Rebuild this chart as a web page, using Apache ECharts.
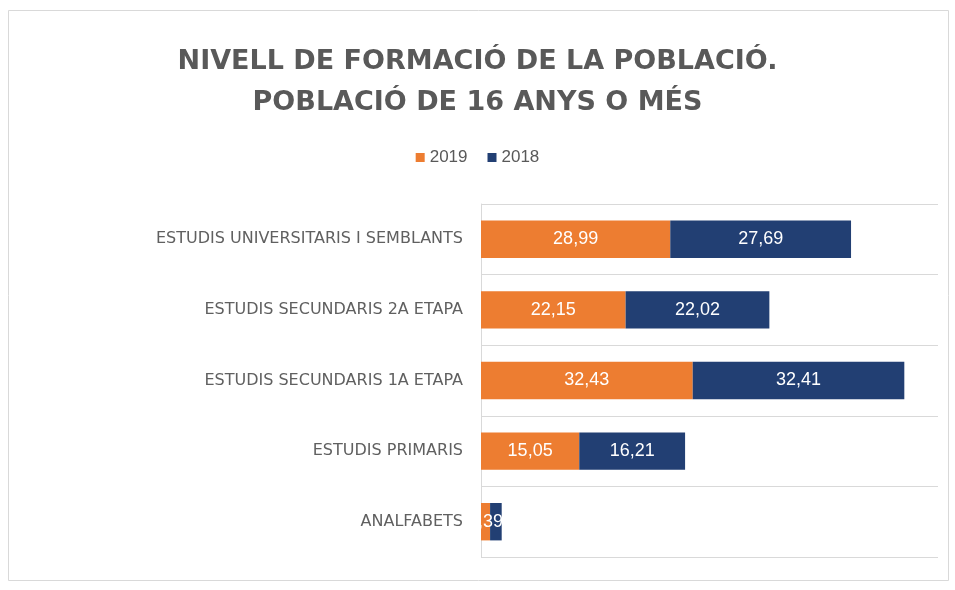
<!DOCTYPE html>
<html>
<head>
<meta charset="UTF-8">
<script src="https://cdn.jsdelivr.net/npm/echarts@6/dist/echarts.min.js"></script>
<style>
  html, body { margin: 0; padding: 0; background: #fff; }
  #main { width: 955px; height: 590px; }
</style>
</head>
<body>
<div id="main"></div>
<script>
// data
var categories = [
  'ESTUDIS UNIVERSITARIS I SEMBLANTS',
  'ESTUDIS SECUNDARIS 2A ETAPA',
  'ESTUDIS SECUNDARIS 1A ETAPA',
  'ESTUDIS PRIMARIS',
  'ANALFABETS'
];
var values2019 = [28.99, 22.15, 32.43, 15.05, 1.39];
var values2018 = [27.69, 22.02, 32.41, 16.21, 1.78];

var grey = '#595959';
var orange = '#ed7d31';
var navy = '#223f73';

function fmt(v) {
  return v.toFixed(2).replace('.', ',');
}

var chart = echarts.init(document.getElementById('main'));

var option = {
  backgroundColor: '#fff',
  animation: false,
  title: {
    text: 'NIVELL DE FORMACIÓ DE LA POBLACIÓ.\nPOBLACIÓ DE 16 ANYS O MÉS',
    left: 'center',
    top: 36,
    textStyle: {
      fontFamily: 'DejaVu Sans',
      fontWeight: 'bold',
      fontSize: 27,
      lineHeight: 41,
      color: grey
    }
  },
  legend: {
    top: 144,
    left: 'center',
    itemWidth: 9,
    itemHeight: 9,
    itemGap: 20,
    icon: 'rect',
    textStyle: { fontFamily: 'Liberation Sans', fontSize: 17, color: grey },
    data: ['2019', '2018']
  },
  graphic: [{
    type: 'rect',
    shape: { x: 8.5, y: 10.5, width: 940, height: 570 },
    style: { fill: 'none', stroke: '#d9d9d9', lineWidth: 1 },
    silent: true
  }],
  grid: { left: 481, right: 17, top: 204, bottom: 33 },
  xAxis: {
    type: 'value',
    min: 0,
    max: 70,
    show: false
  },
  yAxis: {
    type: 'category',
    inverse: true,
    data: categories,
    axisLine: { show: true, lineStyle: { color: '#d9d9d9' } },
    axisTick: { show: false },
    splitLine: { show: true, lineStyle: { color: '#d9d9d9' } },
    axisLabel: {
      margin: 18,
      fontFamily: 'DejaVu Sans',
      fontSize: 16,
      color: '#606060'
    }
  },
  series: [
    {
      name: '2019',
      type: 'bar',
      stack: 'total',
      barWidth: '53%',
      itemStyle: { color: orange },
      label: {
        show: true,
        position: 'inside',
        color: '#fff',
        fontFamily: 'Liberation Sans',
        fontSize: 18,
        formatter: function (p) { return fmt(p.value); }
      },
      data: values2019
    },
    {
      name: '2018',
      type: 'bar',
      stack: 'total',
      barWidth: '53%',
      itemStyle: { color: navy },
      label: {
        show: true,
        position: 'inside',
        color: '#fff',
        fontFamily: 'Liberation Sans',
        fontSize: 18,
        formatter: function (p) { return p.value < 3 ? '' : fmt(p.value); }
      },
      data: values2018
    }
  ]
};

chart.setOption(option);
</script>
</body>
</html>
